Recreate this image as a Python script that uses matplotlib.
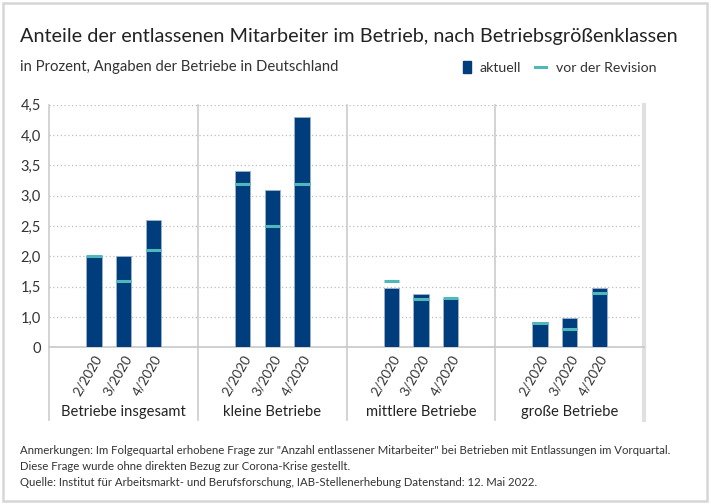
import numpy as np
import matplotlib.pyplot as plt
from matplotlib.patches import Rectangle
from matplotlib.lines import Line2D

plt.rcParams['font.family'] = ['Lato', 'DejaVu Sans']

# data
groups = ["Betriebe insgesamt", "kleine Betriebe", "mittlere Betriebe", "große Betriebe"]
quarters = ["2/2020", "3/2020", "4/2020"]
aktuell = [[2.0, 2.0, 2.6],
           [3.4, 3.1, 4.3],
           [1.48, 1.38, 1.3],
           [0.92, 0.98, 1.48]]
vor_revision = [[2.0, 1.6, 2.1],
                [3.2, 2.5, 3.2],
                [1.6, 1.3, 1.32],
                [0.9, 0.8, 1.4]]
yticks = [0.5, 1.0, 1.5, 2.0, 2.5, 3.0, 3.5, 4.0, 4.5]
yticklabels = ["0", "1,0", "1,5", "2,0", "2,5", "3,0", "3,5", "4,0", "4,5"]

dark_blue = "#003d7c"
teal = "#4fb8bb"
text_col = "#333333"
grid_col = "#bfbfbf"

fig = plt.figure(figsize=(7.11, 5.04), dpi=100)
ax = fig.add_axes([0.0693, 0.3109, 0.8365, 0.4814])

bar_w = 0.52
xs, labels = [], []
for g in range(len(groups)):
    for q in range(len(quarters)):
        x = 5 * g + 1.5 + q
        xs.append(x)
        labels.append(quarters[q])
        ax.bar(x, aktuell[g][q], width=bar_w, bottom=0, color=dark_blue,
               edgecolor="#9fb3cc", linewidth=0.6, zorder=3)
        ax.hlines(vor_revision[g][q], x - bar_w / 2, x + bar_w / 2,
                  color=teal, linewidth=2.2, zorder=4)

ax.set_xlim(0, 20)
ax.set_ylim(0.5, 4.5)
ax.set_yticks(yticks)
ax.set_yticklabels(yticklabels, fontsize=10.5, color=text_col)
ax.set_xticks(xs)
ax.set_xticklabels(labels, rotation=60, ha="right", va="top",
                   rotation_mode="anchor", fontsize=9.6, color=text_col)
ax.tick_params(axis="both", length=0, pad=6)
ax.tick_params(axis="x", pad=4)

for y in yticks[1:]:
    ax.axhline(y, color=grid_col, linestyle=(0, (1, 2)), linewidth=0.9, zorder=1)

for s in ["top", "right", "left"]:
    ax.spines[s].set_visible(False)
ax.spines["bottom"].set_color("#c8c8c8")
ax.spines["bottom"].set_linewidth(1.2)

# group separators, extending down into the label area
ext = -0.30
for g in range(4):
    ax.axvline(5 * g, ymin=ext, ymax=1, color="#cccccc", linewidth=1.2,
               clip_on=False, zorder=2)
ax.axvline(20, ymin=ext, ymax=1, color="#e0e0e0", linewidth=3,
           clip_on=False, zorder=2)
for g, name in enumerate(groups):
    ax.text(5 * g + 2.5, -0.268, name, transform=ax.get_xaxis_transform(),
            ha="center", va="center", fontsize=10.6, color="#222222")

# title and subtitle
fig.text(0.028, 0.927, "Anteile der entlassenen Mitarbeiter im Betrieb, nach Betriebsgrößenklassen",
         fontsize=14.3, color="#222222", va="center")
fig.text(0.028, 0.868, "in Prozent, Angaben der Betriebe in Deutschland",
         fontsize=10.7, color=text_col, va="center")

# legend
fig.patches.append(Rectangle((463 / 711, 1 - 73 / 504), 8 / 711, 12 / 504,
                             transform=fig.transFigure, color=dark_blue))
fig.text(480 / 711, 0.866, "aktuell", fontsize=10.2, color=text_col, va="center")
fig.lines.append(Line2D([535 / 711, 546 / 711], [0.868, 0.868], transform=fig.transFigure,
                        color=teal, linewidth=2.2))
fig.text(556 / 711, 0.866, "vor der Revision", fontsize=10.2, color=text_col, va="center")

# footnotes
notes = ['Anmerkungen: Im Folgequartal erhobene Frage zur "Anzahl entlassener Mitarbeiter" bei Betrieben mit Entlassungen im Vorquartal.',
         "Diese Frage wurde ohne direkten Bezug zur Corona-Krise gestellt.",
         "Quelle: Institut für Arbeitsmarkt- und Berufsforschung, IAB-Stellenerhebung Datenstand: 12. Mai 2022."]
for i, line in enumerate(notes):
    fig.text(0.028, 1 - (451 + 15.5 * i) / 504, line, fontsize=8.2, color=text_col, va="center")

# outer frame
fig.patches.append(Rectangle((3 / 711, 3 / 504), 704 / 711, 498 / 504, transform=fig.transFigure,
                             fill=False, edgecolor="#d6d6d6", linewidth=1.8))

fig.savefig("out.png", dpi=100)
